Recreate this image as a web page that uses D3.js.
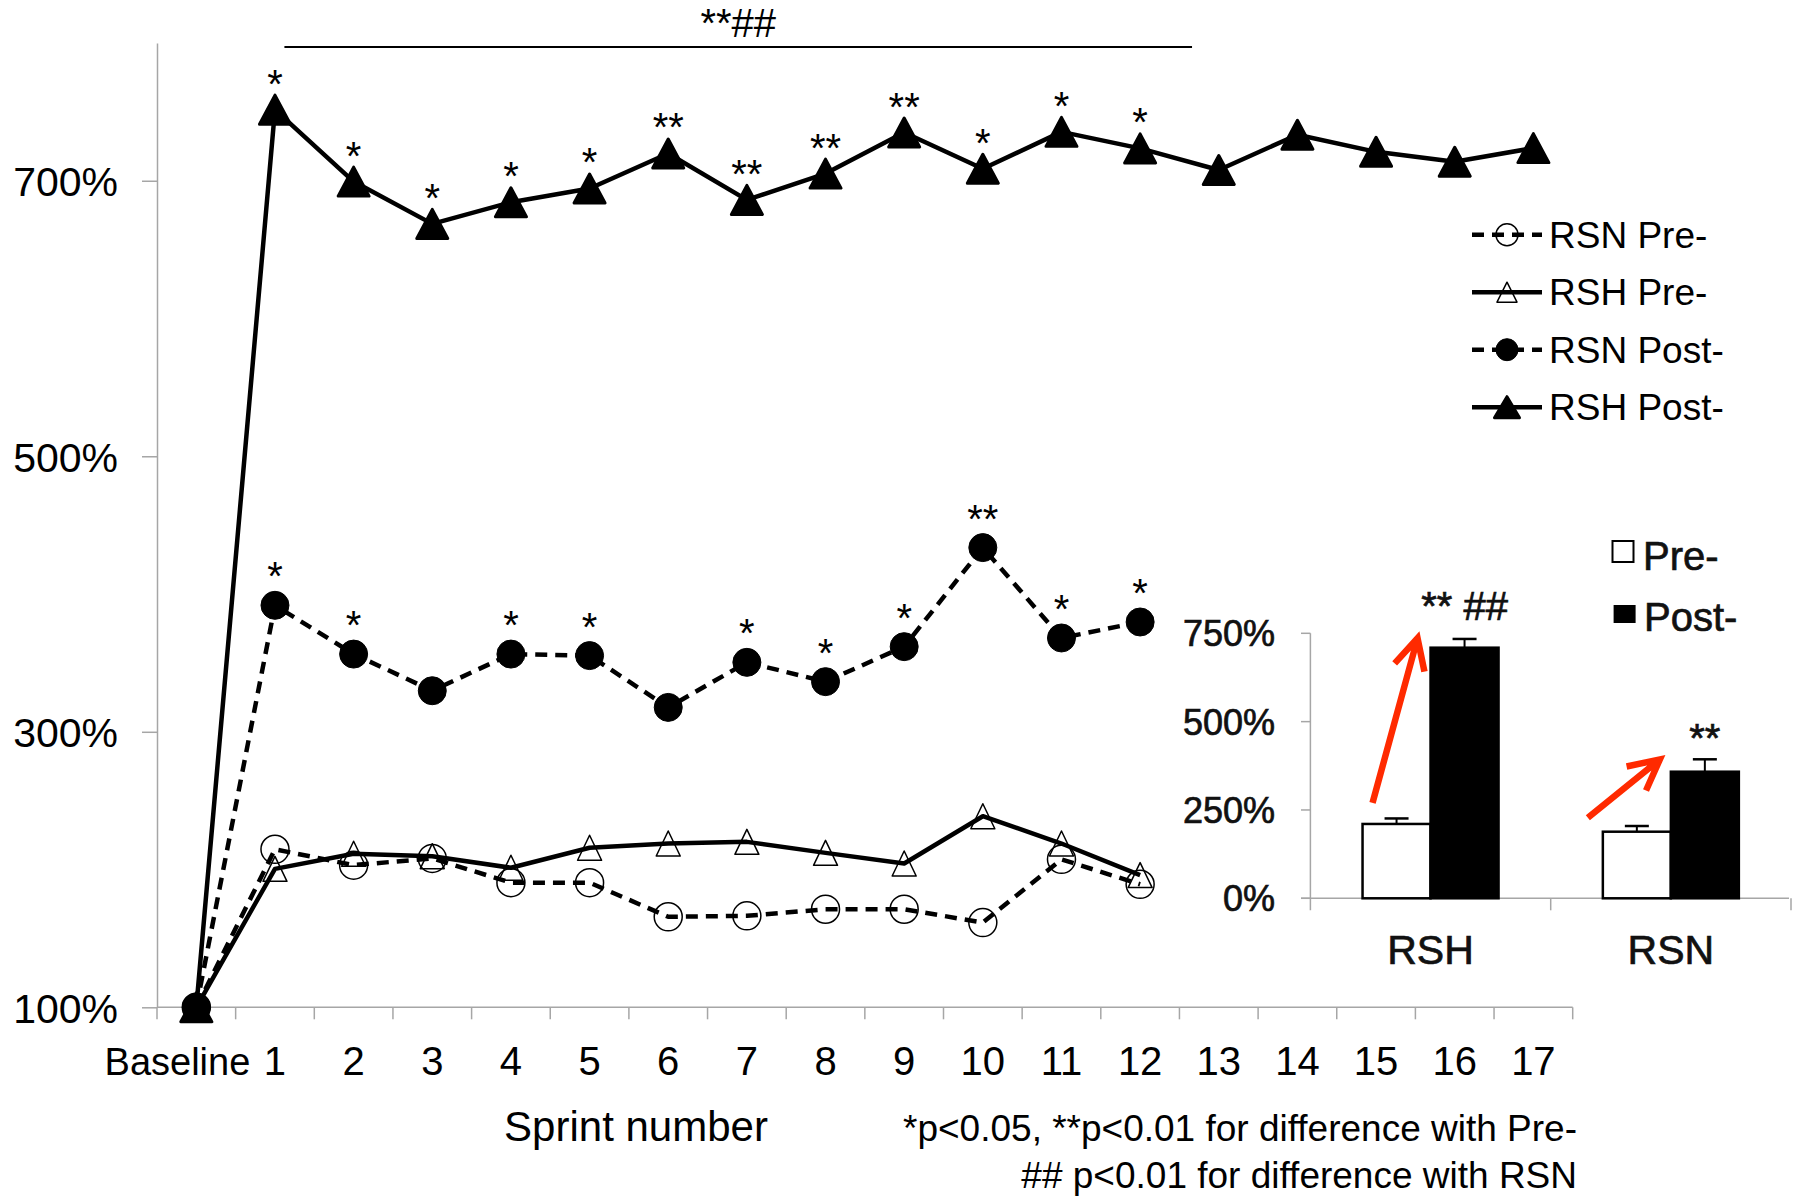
<!DOCTYPE html>
<html>
<head>
<meta charset="utf-8">
<script src="https://cdn.jsdelivr.net/npm/d3@7"></script>
<style>
body { margin: 0; background: #fff; }
svg { display: block; font-family: "Liberation Sans", Arial, Helvetica, sans-serif; }
</style>
</head>
<body>
<svg id="chart" width="1795" height="1198"></svg>
<script>
// main chart data (% of baseline)
const categories = ['Baseline', '1', '2', '3', '4', '5', '6', '7', '8', '9', '10', '11', '12', '13', '14', '15', '16', '17'];
const rsnPre = [100, 214.7, 203.2, 208.1, 190.5, 190.5, 165.7, 166.4, 171.2, 171.2, 161.5, 207.4, 189.3];
const rshPre = [100, 200.5, 211.5, 209.7, 201.3, 215.8, 218.9, 220.1, 212.1, 204.4, 238.7, 218.9, 196.0];
const rsnPost = [100, 391.8, 356.4, 329.8, 356.4, 355.3, 317.7, 350.4, 336.4, 361.8, 433.7, 368.1, 379.7];
const rshPost = [100, 751.6, 699.4, 668.7, 684.4, 694.4, 719.8, 686.1, 705.2, 735.0, 708.7, 735.5, 723.5, 707.8, 733.4, 721.0, 713.8, 723.7];
const rsnPostSig = ['', '*', '*', '', '*', '*', '', '*', '*', '*', '**', '*', '*'];
const rshPostSig = ['', '*', '*', '*', '*', '*', '**', '**', '**', '**', '*', '*', '*'];
const yTicks = [100, 300, 500, 700];

// inset bar chart
const groups = ['RSH', 'RSN'];
const phases = ['Pre', 'Post'];
const preMean = [210.4, 188.5];
const preErr = [15.6, 16.1];
const postMean = [709.3, 358.3];
const postErr = [24.7, 35.1];
const insetTicks = [0, 250, 500, 750];
const insetSig = ['** ##', '**'];

const svg = d3.select('#chart');
svg.append('rect').attr('width', 1795).attr('height', 1198).attr('fill', '#fff');

const AXIS = '#a6a6a6';
const x = d3.scaleBand().domain(categories).range([157, 1572.7]);
const y = d3.scaleLinear().domain([100, 800]).range([1007.3, 43]);
const cx = i => x(categories[i]) + x.bandwidth() / 2;

// y axis
const yAxis = svg.append('g').attr('transform', 'translate(157,0)')
  .call(d3.axisLeft(y).tickValues(yTicks).tickFormat(d => d + '%').tickSize(15).tickSizeOuter(0).tickPadding(24));
yAxis.select('.domain').attr('stroke', AXIS).attr('stroke-width', 1.5);
yAxis.selectAll('.tick line').attr('stroke', AXIS).attr('stroke-width', 1.5);
yAxis.selectAll('.tick text').attr('font-size', 41).attr('fill', '#000').attr('font-family', null).attr('dy', '0.36em');

// x axis: ticks at band edges, labels at centres
const xg = svg.append('g');
xg.append('line').attr('x1', 157).attr('x2', x.range()[1]).attr('y1', y(100)).attr('y2', y(100))
  .attr('stroke', AXIS).attr('stroke-width', 1.5);
xg.selectAll('line.tk').data(categories.concat(['end'])).enter().append('line').attr('class', 'tk')
  .attr('x1', (d, i) => 157 + i * x.step()).attr('x2', (d, i) => 157 + i * x.step())
  .attr('y1', y(100)).attr('y2', y(100) + 12).attr('stroke', AXIS).attr('stroke-width', 1.5);
xg.selectAll('text').data(categories).enter().append('text')
  .attr('x', (d, i) => i === 0 ? cx(0) + 54 : cx(i))
  .attr('y', 1075)
  .attr('text-anchor', (d, i) => i === 0 ? 'end' : 'middle')
  .attr('font-size', (d, i) => i === 0 ? 38 : 40).text(d => d);

svg.append('text').attr('x', 636).attr('y', 1141).attr('text-anchor', 'middle').attr('font-size', 42).text('Sprint number');
svg.append('text').attr('x', 1577).attr('y', 1141).attr('text-anchor', 'end').attr('font-size', 37)
  .text('*p<0.05, **p<0.01 for difference with Pre-');
svg.append('text').attr('x', 1577).attr('y', 1188).attr('text-anchor', 'end').attr('font-size', 37)
  .text('## p<0.01 for difference with RSN');

// top bracket
const bx1 = x('1') + x.bandwidth() * 0.62, bx2 = x('13') + x.bandwidth() * 0.16;
svg.append('line').attr('x1', bx1).attr('x2', bx2)
  .attr('y1', 47).attr('y2', 47).attr('stroke', '#000').attr('stroke-width', 2);
svg.append('text').attr('x', (bx1 + bx2) / 2)
  .attr('y', 37).attr('text-anchor', 'middle').attr('font-size', 40).text('**##');

// series
const tri = (w, h) => `M0,${-h / 2}L${w / 2},${h / 2}L${-w / 2},${h / 2}Z`;
const series = [
  { name: 'RSN Pre-', values: rsnPre, dash: '12,8', marker: 'circle', fill: 'none' },
  { name: 'RSH Pre-', values: rshPre, dash: null, marker: 'tri', fill: 'none' },
  { name: 'RSN Post-', values: rsnPost, dash: '12,8', marker: 'circle', fill: '#000' },
  { name: 'RSH Post-', values: rshPost, dash: null, marker: 'tri', fill: '#000' }
];
const line = d3.line().x((d, i) => cx(i)).y(d => y(d));

series.forEach(s => {
  svg.append('path').datum(s.values).attr('d', line)
    .attr('fill', 'none').attr('stroke', '#000').attr('stroke-width', 4.5)
    .attr('stroke-dasharray', s.dash).attr('stroke-linejoin', 'round');
});

function drawMarker(g, s, big) {
  const open = s.fill === 'none';
  if (s.marker === 'circle') {
    g.append('circle').attr('r', big ? (open ? 14 : 14) : 11)
      .attr('fill', s.fill).attr('stroke', '#000').attr('stroke-width', open ? 1.5 : 1);
  } else {
    const w = open ? (big ? 24 : 20) : (big ? 31 : 25);
    const h = open ? (big ? 25 : 20) : (big ? 29 : 21);
    g.append('path').attr('d', tri(w, h)).attr('fill', s.fill).attr('stroke', '#000')
      .attr('stroke-width', open ? 1.5 : 3).attr('stroke-linejoin', 'round');
  }
}

series.forEach(s => {
  s.values.forEach((v, i) => {
    const g = svg.append('g').attr('transform', `translate(${cx(i)},${y(v)})`);
    drawMarker(g, s, true);
  });
});

// significance marks
rshPostSig.forEach((t, i) => {
  if (!t) return;
  svg.append('text').attr('x', cx(i)).attr('y', y(rshPost[i]) - 12).attr('text-anchor', 'middle')
    .attr('font-size', 40).text(t);
});
rsnPostSig.forEach((t, i) => {
  if (!t) return;
  svg.append('text').attr('x', cx(i)).attr('y', y(rsnPost[i]) - 15).attr('text-anchor', 'middle')
    .attr('font-size', 40).text(t);
});

// legend
const lg = svg.append('g');
series.forEach((s, k) => {
  const ly = 234.7 + k * 57.5;
  lg.append('line').attr('x1', 1472).attr('x2', 1542).attr('y1', ly).attr('y2', ly)
    .attr('stroke', '#000').attr('stroke-width', 4.5).attr('stroke-dasharray', s.dash ? '12,8' : null);
  drawMarker(lg.append('g').attr('transform', `translate(1507,${ly})`), s, false);
  lg.append('text').attr('x', 1549).attr('y', ly + 13).attr('font-size', 37).text(s.name);
});

// ---- inset ----
const xi = d3.scaleBand().domain(groups).range([1310.4, 1791]).paddingInner(0.434).paddingOuter(0.217);
const xs = d3.scaleBand().domain(phases).range([0, xi.bandwidth()]);
const yi = d3.scaleLinear().domain([0, 750]).range([898.3, 633.3]);
const ins = svg.append('g');
const insText = sel => sel.attr('fill', '#111').attr('stroke', '#111').attr('stroke-width', 0.7);

ins.append('line').attr('x1', 1310.4).attr('x2', 1310.4).attr('y1', yi(750)).attr('y2', yi(0) + 12)
  .attr('stroke', AXIS).attr('stroke-width', 1.5);
ins.append('line').attr('x1', 1301).attr('x2', 1789).attr('y1', yi(0)).attr('y2', yi(0))
  .attr('stroke', AXIS).attr('stroke-width', 1.5);
[1310.4 + xi.step(), 1791].forEach(px => {
  ins.append('line').attr('x1', px).attr('x2', px).attr('y1', yi(0)).attr('y2', yi(0) + 12)
    .attr('stroke', AXIS).attr('stroke-width', 1.5);
});
insetTicks.forEach(t => {
  ins.append('line').attr('x1', 1301).attr('x2', 1310.4).attr('y1', yi(t)).attr('y2', yi(t))
    .attr('stroke', AXIS).attr('stroke-width', 1.5);
  insText(ins.append('text').attr('x', 1275).attr('y', yi(t)).attr('dy', '0.36em')
    .attr('text-anchor', 'end').attr('font-size', 36).text(t + '%'));
});
groups.forEach((gname, gi) => {
  const x0 = xi(gname);
  const bars = [
    { p: 'Pre', v: preMean[gi], e: preErr[gi], fill: '#fff' },
    { p: 'Post', v: postMean[gi], e: postErr[gi], fill: '#000' }
  ];
  bars.forEach(b => {
    const bx = x0 + xs(b.p), bw = xs.bandwidth();
    ins.append('line').attr('x1', bx + bw / 2).attr('x2', bx + bw / 2).attr('y1', yi(b.v)).attr('y2', yi(b.v + b.e))
      .attr('stroke', '#000').attr('stroke-width', 2);
    ins.append('line').attr('x1', bx + bw / 2 - 12).attr('x2', bx + bw / 2 + 12).attr('y1', yi(b.v + b.e)).attr('y2', yi(b.v + b.e))
      .attr('stroke', '#000').attr('stroke-width', 2.5);
    ins.append('rect').attr('x', bx).attr('y', yi(b.v)).attr('width', bw).attr('height', yi(0) - yi(b.v))
      .attr('fill', b.fill).attr('stroke', '#000').attr('stroke-width', 2.5);
  });
  insText(ins.append('text').attr('x', x0 + xi.bandwidth() / 2).attr('y', 964).attr('text-anchor', 'middle')
    .attr('font-size', 41).text(gname));
  insText(ins.append('text').attr('x', x0 + xs('Post') + xs.bandwidth() / 2)
    .attr('y', gi === 0 ? 620 : 752).attr('text-anchor', 'middle').attr('font-size', 40).text(insetSig[gi]));
});

// red arrows Pre -> Post
function arrow(x1, y1, x2, y2) {
  const a = Math.atan2(y1 - y2, x1 - x2), L = 34, sp = 27 * Math.PI / 180;
  const h1 = [x2 + L * Math.cos(a + sp), y2 + L * Math.sin(a + sp)];
  const h2 = [x2 + L * Math.cos(a - sp), y2 + L * Math.sin(a - sp)];
  ins.append('path').attr('d', `M${x1},${y1}L${x2},${y2}M${h1[0]},${h1[1]}L${x2},${y2}L${h2[0]},${h2[1]}`)
    .attr('fill', 'none').attr('stroke', '#ff2a00').attr('stroke-width', 6.5).attr('stroke-linejoin', 'miter');
}
const rsh0 = xi('RSH'), rsn0 = xi('RSN');
arrow(rsh0 + 10, yi(270), rsh0 + xs('Post') - 13, yi(736));
arrow(rsn0 - 15, yi(228), rsn0 + xs.bandwidth() - 11, yi(393));

// inset legend
ins.append('rect').attr('x', 1612.5).attr('y', 541).attr('width', 21).attr('height', 21)
  .attr('fill', '#fff').attr('stroke', '#000').attr('stroke-width', 2);
insText(ins.append('text').attr('x', 1643).attr('y', 570).attr('font-size', 40).text('Pre-'));
ins.append('rect').attr('x', 1613.6).attr('y', 605).attr('width', 22).attr('height', 18).attr('fill', '#000');
insText(ins.append('text').attr('x', 1644).attr('y', 631).attr('font-size', 40).text('Post-'));
</script>
</body>
</html>
